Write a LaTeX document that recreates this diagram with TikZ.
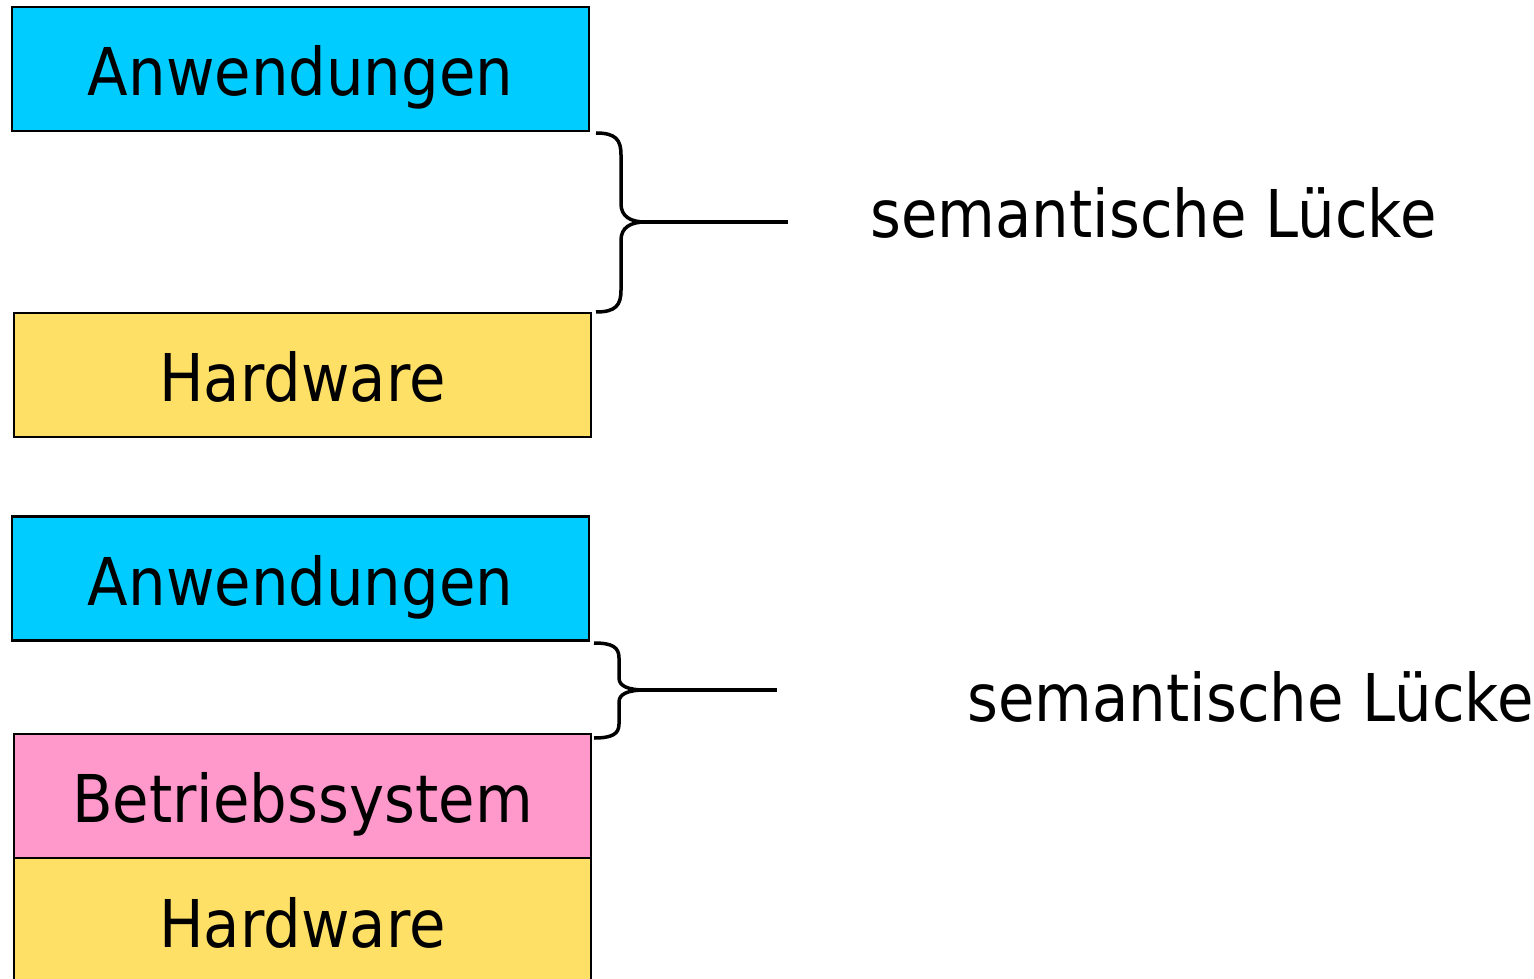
\documentclass[tikz,border=0pt]{standalone}
\usepackage{fontspec}
\setmainfont[FakeStretch=0.9]{DejaVu Sans}
\definecolor{anwcol}{RGB}{0,204,255}
\definecolor{hwcol}{RGB}{255,224,102}
\definecolor{bscol}{RGB}{255,153,204}
\tikzset{
  layer/.style={draw=black, line width=0.045cm, minimum width=11.54cm, minimum height=2.48cm, inner sep=0pt, text height=1.08cm, text depth=0pt, font=\fontsize{37.5}{45}\selectfont},
  gaplabel/.style={anchor=base west, inner sep=0pt, font=\fontsize{37.5}{45}\selectfont},
  brace/.style={line width=0.07cm, line join=round}
}
\begin{document}
\begin{tikzpicture}[x=0.02cm,y=-0.02cm]
  \useasboundingbox (0,0) rectangle (1534,979);
  % without operating system
  \node[layer, fill=anwcol] (anw1) at (300.5,69) {Anwendungen};
  \node[layer, fill=hwcol] (hw1) at (302.5,375) {Hardware};
  \coordinate (tip1) at (645,222);
  \coordinate (end1) at (788,222);
  \draw[brace] (596,133) .. controls (616,133) and (621,140) .. (621,155) -- (621,204)
    .. controls (621,216) and (630,222) .. (tip1)
    .. controls (630,222) and (621,228) .. (621,240) -- (621,290)
    .. controls (621,305) and (616,312) .. (596,312);
  \draw[brace] (tip1) -- (end1);
  \node[gaplabel] (gap1) at (870,238) {semantische Lücke};
  % with operating system
  \node[layer, fill=anwcol] (anw2) at (300.5,578.5) {Anwendungen};
  \node[layer, fill=bscol] (bs) at (302.5,796) {Betriebssystem};
  \node[layer, fill=hwcol] (hw2) at (302.5,920) {Hardware};
  \coordinate (tip2) at (645,690);
  \coordinate (end2) at (777,690);
  \draw[brace] (594,643) .. controls (612,643) and (619,647) .. (619,658) -- (619,678)
    .. controls (619,686) and (628,690) .. (tip2)
    .. controls (628,690) and (619,694) .. (619,702) -- (619,724)
    .. controls (619,734) and (612,738) .. (594,738);
  \draw[brace] (tip2) -- (end2);
  \node[gaplabel] (gap2) at (967,721) {semantische Lücke};
\end{tikzpicture}
\end{document}
